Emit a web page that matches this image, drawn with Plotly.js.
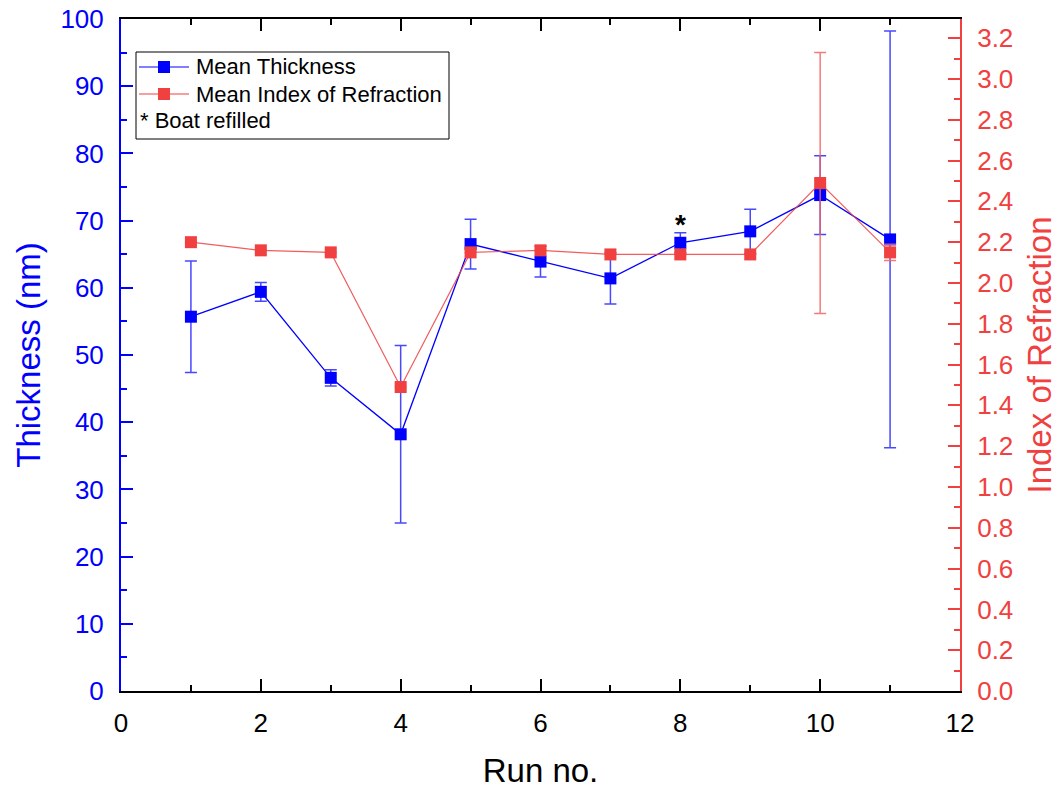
<!DOCTYPE html>
<html>
<head>
<meta charset="utf-8">
<script src="https://cdn.plot.ly/plotly-3.0.1.min.js"></script>
<style>html,body{margin:0;padding:0;background:#fff}#chart{width:1060px;height:791px}</style>
</head>
<body>
<div id="chart"></div>
<script>
// Data
const runs = [1, 2, 3, 4, 5, 6, 7, 8, 9, 10, 11];
const thickness = [55.7, 59.4, 46.6, 38.2, 66.5, 63.9, 61.4, 66.7, 68.4, 73.8, 67.2];
const thicknessErr = [8.3, 1.4, 1.2, 13.2, 3.7, 2.3, 3.8, 1.5, 3.3, 5.85, 31.0];
const refIndex = [2.20, 2.16, 2.15, 1.49, 2.15, 2.16, 2.14, 2.14, 2.14, 2.49, 2.15];
const refIndexErr = [0, 0, 0, 0, 0, 0, 0, 0, 0, 0.64, 0.04];
const legendLabels = ["Mean Thickness", "Mean Index of Refraction", "* Boat refilled"];
const refillRun = 8;
const refillMark = 69.4;

const BLUE = "#0000ff";
const RED = "#f04040";
const FONT = "Arial, 'Liberation Sans', sans-serif";

const traces = [
  {
    x: runs, y: thickness, type: "scatter", mode: "lines+markers",
    name: legendLabels[0], yaxis: "y",
    line: {color: BLUE, width: 1.3},
    marker: {symbol: "square", size: 12, color: BLUE},
    error_y: {type: "data", array: thicknessErr, visible: true, color: "rgba(40,40,255,0.85)", thickness: 1.5, width: 6},
    showlegend: false
  },
  {
    x: runs, y: refIndex, type: "scatter", mode: "lines+markers",
    name: legendLabels[1], yaxis: "y2",
    line: {color: "rgba(240,64,64,0.85)", width: 1.2},
    marker: {symbol: "square", size: 12, color: RED},
    error_y: {type: "data", array: refIndexErr, visible: true, color: "rgba(240,100,100,0.85)", thickness: 1.5, width: 6},
    showlegend: false
  }
];

// Legend geometry (paper coordinates)
const PW = 839, PH = 672;
const px = v => (v - 121) / PW;
const py = v => (691 - v) / PH;
const rowsY = [67, 94, 120];
const legendColors = [BLUE, RED];

const shapes = [
  {type: "rect", xref: "paper", yref: "paper", x0: px(136), x1: px(449), y0: py(139), y1: py(52),
   line: {color: "#000", width: 1}, fillcolor: "rgba(255,255,255,0)"}
];
const annotations = [];
for (let i = 0; i < 2; i++) {
  shapes.push({type: "line", xref: "paper", yref: "paper", x0: px(139), x1: px(189), y0: py(rowsY[i]), y1: py(rowsY[i]),
    line: {color: legendColors[i], width: 1.2}});
  shapes.push({type: "rect", xref: "paper", yref: "paper", x0: px(158), x1: px(170), y0: py(rowsY[i] + 6), y1: py(rowsY[i] - 6),
    line: {width: 0}, fillcolor: legendColors[i]});
  annotations.push({xref: "paper", yref: "paper", x: px(194), y: py(rowsY[i]), xanchor: "left", yanchor: "middle",
    text: legendLabels[i], showarrow: false, font: {family: FONT, size: 22, color: "#000"}});
}
annotations.push({xref: "paper", yref: "paper", x: px(138), y: py(rowsY[2]), xanchor: "left", yanchor: "middle",
  text: legendLabels[2], showarrow: false, font: {family: FONT, size: 22, color: "#000"}});
annotations.push({xref: "x", yref: "y", x: refillRun, y: refillMark, text: "<b>*</b>", showarrow: false,
  font: {family: FONT, size: 28, color: "#000"}});

const layout = {
  width: 1060, height: 791,
  margin: {l: 121, r: 100, t: 19, b: 100},
  paper_bgcolor: "#fff", plot_bgcolor: "#fff",
  showlegend: false,
  font: {family: FONT},
  xaxis: {
    range: [0, 12], dtick: 2, tick0: 0,
    ticks: "inside", ticklen: 12, tickwidth: 2, tickcolor: "#000",
    minor: {dtick: 1, ticks: "inside", ticklen: 6, tickwidth: 2, tickcolor: "#000"},
    showline: true, linecolor: "#000", linewidth: 2, mirror: "ticks",
    showgrid: false, zeroline: false,
    tickfont: {family: FONT, size: 26, color: "#000"},
    ticklabelstandoff: 8,
    title: {text: "Run no.", font: {family: FONT, size: 33, color: "#000"}, standoff: 22}
  },
  yaxis: {
    range: [0, 100], dtick: 10, tick0: 0,
    ticks: "inside", ticklen: 12, tickwidth: 2, tickcolor: BLUE,
    minor: {dtick: 5, ticks: "inside", ticklen: 6, tickwidth: 2, tickcolor: BLUE},
    showline: true, linecolor: BLUE, linewidth: 2,
    showgrid: false, zeroline: false,
    tickfont: {family: FONT, size: 26, color: BLUE},
    ticklabelstandoff: 10,
    title: {text: "Thickness (nm)", font: {family: FONT, size: 33, color: BLUE}, standoff: 10}
  },
  yaxis2: {
    overlaying: "y", side: "right",
    range: [0, 3.294], dtick: 0.2, tick0: 0, tickformat: ".1f",
    ticks: "inside", ticklen: 12, tickwidth: 2, tickcolor: RED,
    minor: {dtick: 0.1, ticks: "inside", ticklen: 6, tickwidth: 2, tickcolor: RED},
    showline: true, linecolor: RED, linewidth: 2,
    showgrid: false, zeroline: false,
    tickfont: {family: FONT, size: 26, color: RED},
    ticklabelstandoff: 10,
    title: {text: "Index of Refraction", font: {family: FONT, size: 33, color: RED}, standoff: 16}
  },
  shapes: shapes,
  annotations: annotations
};

Plotly.newPlot("chart", traces, layout, {displayModeBar: false, staticPlot: true});
</script>
</body>
</html>
